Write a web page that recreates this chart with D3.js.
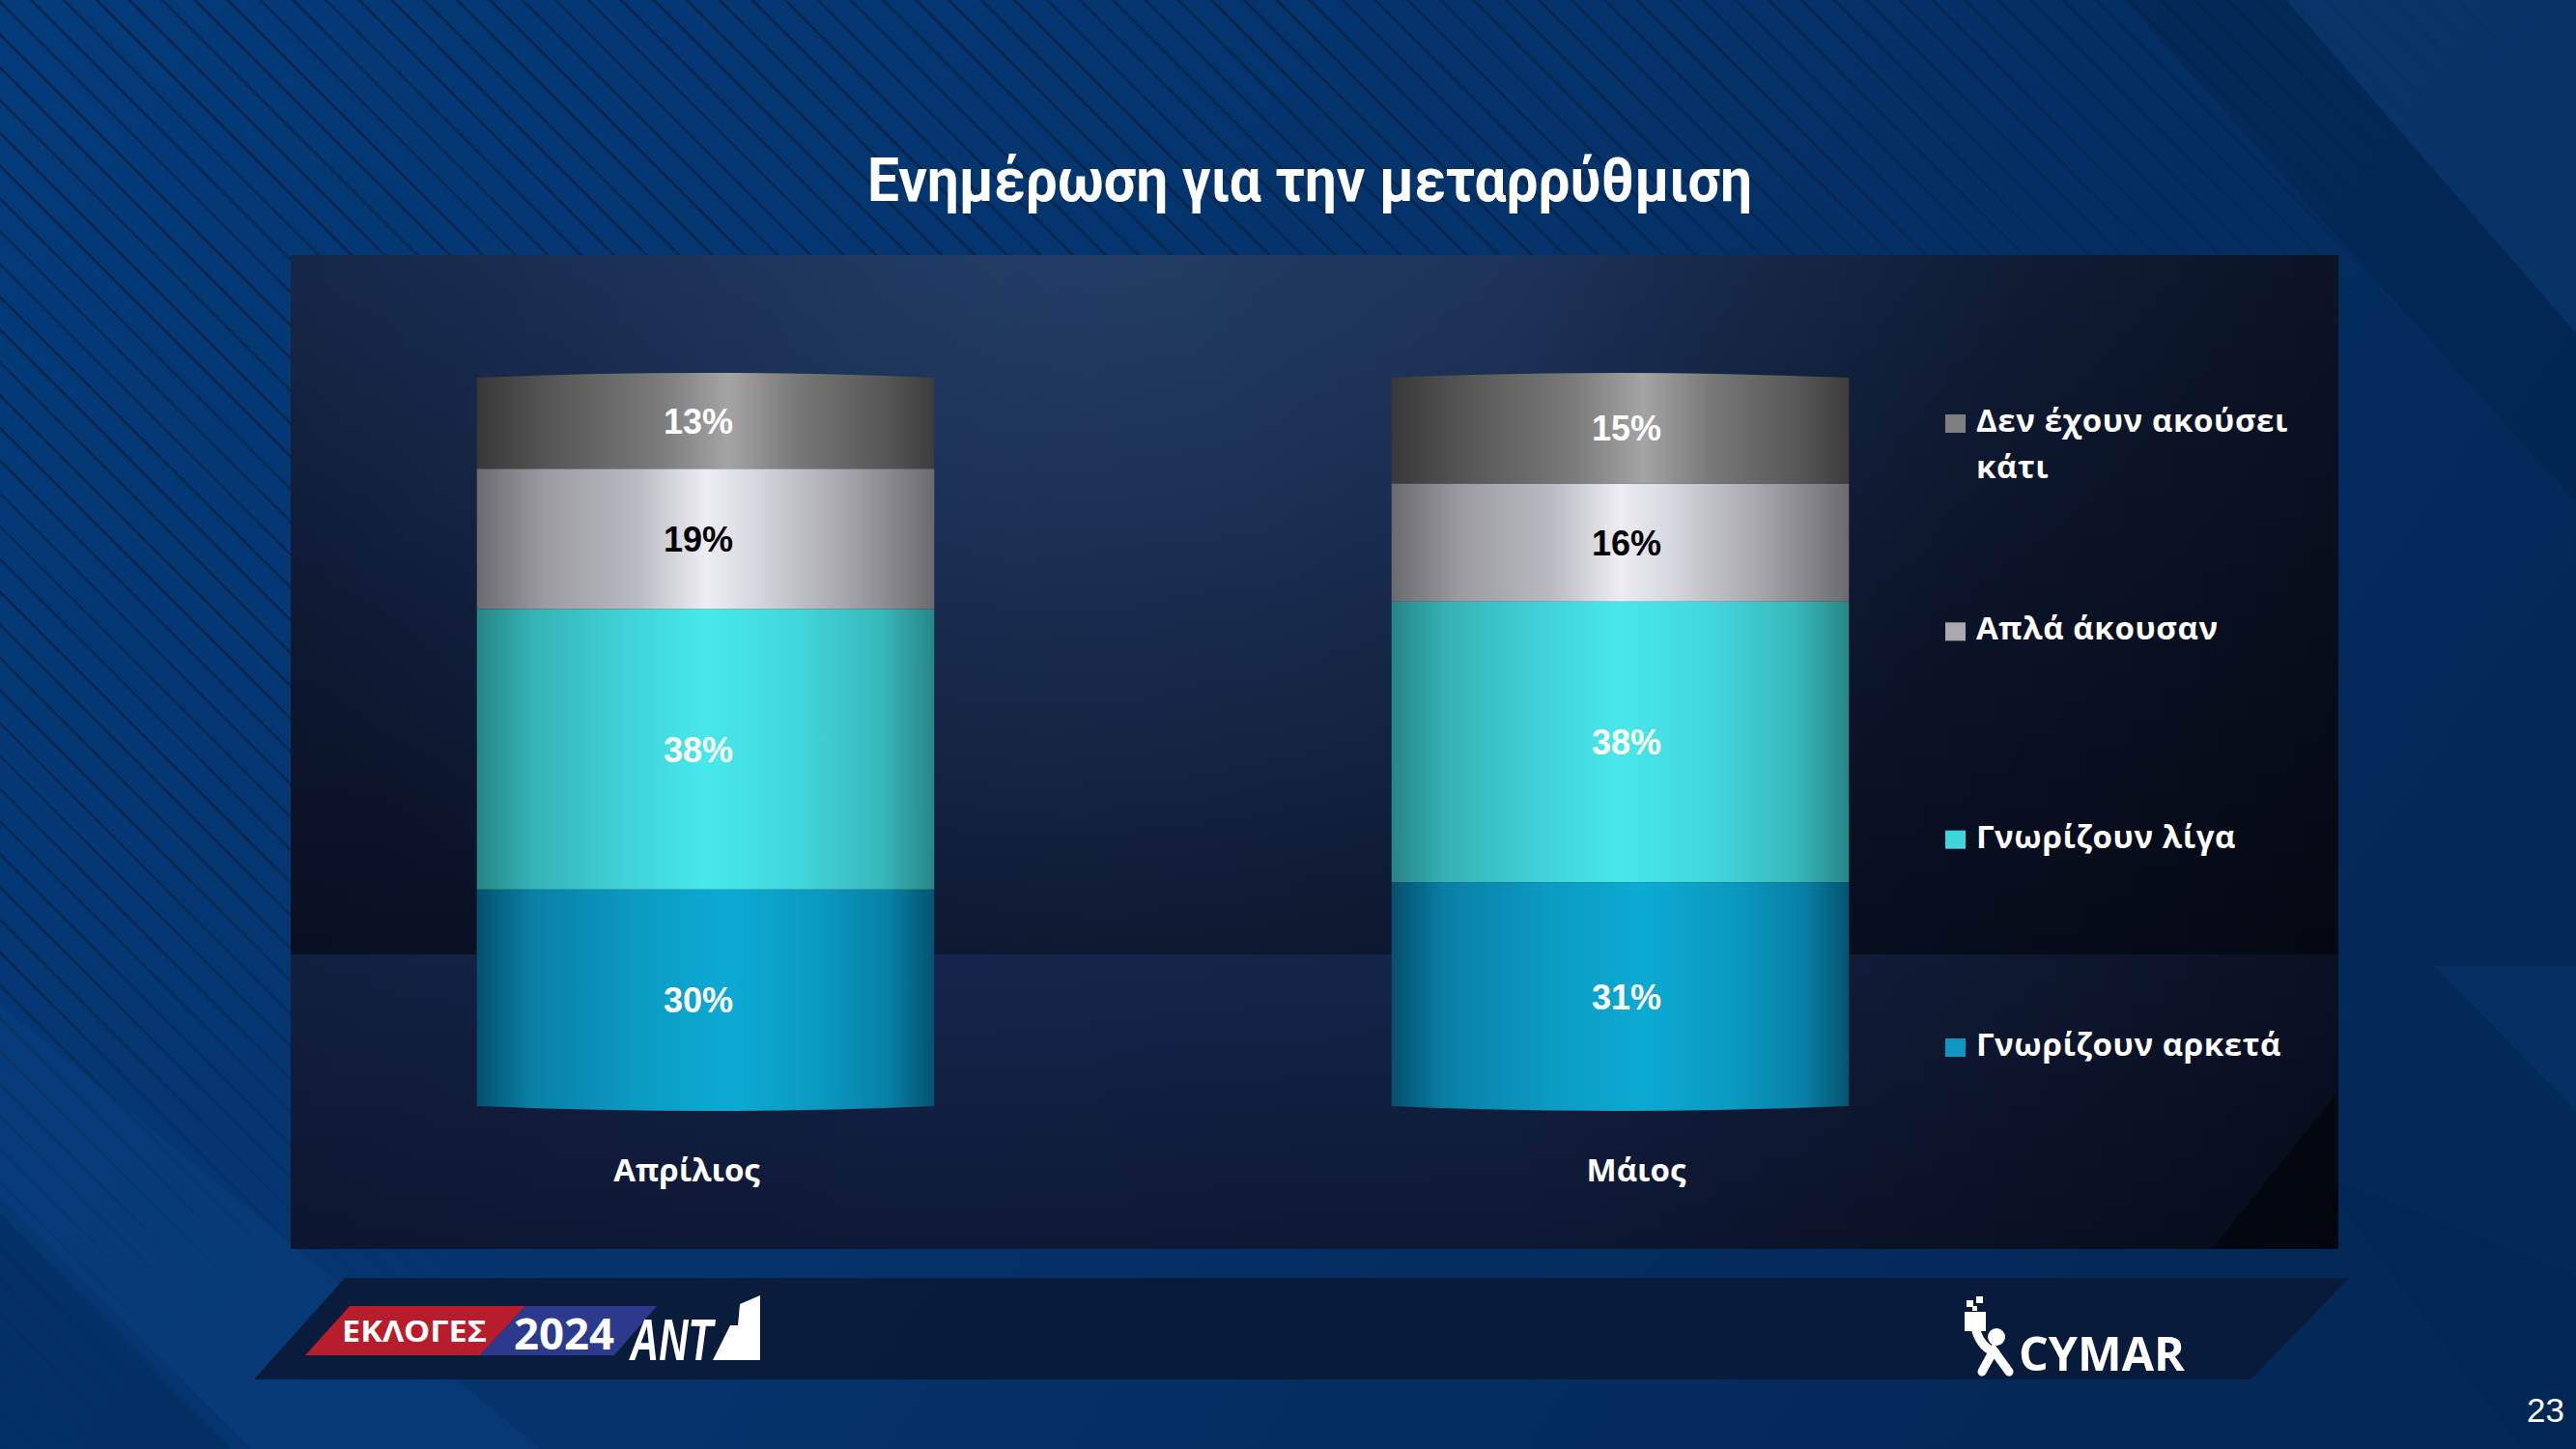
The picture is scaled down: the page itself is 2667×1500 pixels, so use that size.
<!DOCTYPE html>
<html>
<head>
<meta charset="utf-8">
<script src="https://cdn.jsdelivr.net/npm/d3@7"></script>
<style>
html, body { margin: 0; padding: 0; background: #04336b; overflow: hidden; }
</style>
</head>
<body>
<svg id="chart" width="2667" height="1500"></svg>
<script>
// chart values
var months = ["Απρίλιος", "Μάιος"];
var series = ["Γνωρίζουν αρκετά", "Γνωρίζουν λίγα", "Απλά άκουσαν", "Δεν έχουν ακούσει κάτι"];
var know_much = [30, 31];
var know_little = [38, 38];
var just_heard = [19, 16];
var heard_nothing = [13, 15];
var title_text = "Ενημέρωση για την μεταρρύθμιση";
var page_number = "23";

var W = 2667, H = 1500;
var svg = d3.select("#chart");
var defs = svg.append("defs");

// table for d3.stack
var rows = months.map((m, i) => ({
    month: m,
    [series[0]]: know_much[i],
    [series[1]]: know_little[i],
    [series[2]]: just_heard[i],
    [series[3]]: heard_nothing[i]
}));

// cylinder shading per series (left edge -> highlight -> right edge)
var shading = {
    [series[0]]: [[0, "#05506e"], [0.12, "#0980a6"], [0.35, "#0b9bc3"], [0.55, "#0caad3"], [0.75, "#0a99c1"], [0.9, "#0880a6"], [1, "#05526f"]],
    [series[1]]: [[0, "#278585"], [0.12, "#35b2b5"], [0.3, "#3ecfd3"], [0.5, "#47e8ec"], [0.7, "#41d7db"], [0.88, "#38b9bc"], [1, "#288686"]],
    [series[2]]: [[0, "#6a6a6f"], [0.15, "#9b9ba1"], [0.35, "#babac2"], [0.5, "#ededf3"], [0.6, "#d9d9e1"], [0.8, "#a7a7ad"], [1, "#6b6b6f"]],
    [series[3]]: [[0, "#383838"], [0.15, "#545454"], [0.4, "#7b7b7b"], [0.55, "#a4a4a4"], [0.7, "#787878"], [0.9, "#555555"], [1, "#3c3c3c"]]
};
var legend_color = {
    [series[0]]: "#0c98c2",
    [series[1]]: "#3fd6da",
    [series[2]]: "#a9a9ae",
    [series[3]]: "#7f7f7f"
};
var label_color = {
    [series[0]]: "#ffffff",
    [series[1]]: "#ffffff",
    [series[2]]: "#000000",
    [series[3]]: "#ffffff"
};

series.forEach((s, i) => {
    var g = defs.append("linearGradient").attr("id", "cyl" + i)
        .attr("x1", 0).attr("y1", 0).attr("x2", 1).attr("y2", 0);
    shading[s].forEach(st => g.append("stop").attr("offset", st[0]).attr("stop-color", st[1]));
});

/* ---------- slide background ---------- */
var bg = defs.append("linearGradient").attr("id", "bgGrad").attr("x1", 0).attr("y1", 0).attr("x2", 1).attr("y2", 0.4);
bg.append("stop").attr("offset", 0).attr("stop-color", "#043b7a");
bg.append("stop").attr("offset", 0.55).attr("stop-color", "#05336b");
bg.append("stop").attr("offset", 1).attr("stop-color", "#032959");
svg.append("rect").attr("width", W).attr("height", H).attr("fill", "url(#bgGrad)");

// diagonal pinstripes, fading out to the lower right
var pat = defs.append("pattern").attr("id", "stripes").attr("patternUnits", "userSpaceOnUse")
    .attr("width", 24).attr("height", 24).attr("patternTransform", "rotate(45)");
pat.append("rect").attr("x", 0).attr("y", 0).attr("width", 24).attr("height", 2.6).attr("fill", "#06244c");
var fade = defs.append("linearGradient").attr("id", "stripeFade").attr("x1", 0).attr("y1", 0).attr("x2", 0.8).attr("y2", 1);
fade.append("stop").attr("offset", 0).attr("stop-color", "#fff").attr("stop-opacity", 1);
fade.append("stop").attr("offset", 0.4).attr("stop-color", "#fff").attr("stop-opacity", 0.85);
fade.append("stop").attr("offset", 0.62).attr("stop-color", "#fff").attr("stop-opacity", 0);
var mask = defs.append("mask").attr("id", "stripeMask");
mask.append("rect").attr("width", W).attr("height", H).attr("fill", "url(#stripeFade)");
svg.append("rect").attr("width", W).attr("height", H).attr("fill", "url(#stripes)").attr("mask", "url(#stripeMask)");

// big facets of the background
var facets = [
    {pts: [[2367, 0], [2667, 0], [2667, 345]], fill: "#0d3a70", op: 0.55},
    {pts: [[2200, 0], [2367, 0], [2667, 345], [2667, 520]], fill: "#021f45", op: 0.35},
    {pts: [[0, 1040], [0, 1240], [260, 1500], [560, 1500]], fill: "#0b4487", op: 0.35},
    {pts: [[0, 1260], [0, 1500], [240, 1500]], fill: "#022a5a", op: 0.5},
    {pts: [[2520, 1000], [2667, 1000], [2667, 1150]], fill: "#0a3a72", op: 0.45},
    {pts: [[2400, 1215], [2667, 1320], [2667, 1500], [2610, 1500]], fill: "#022550", op: 0.35}
];
svg.append("g").selectAll("polygon").data(facets).join("polygon")
    .attr("points", d => d.pts.map(p => p.join(",")).join(" "))
    .attr("fill", d => d.fill).attr("opacity", d => d.op);

/* ---------- chart panel ---------- */
var panel = {x0: 301, y0: 264, x1: 2421, y1: 1293, split: 988};
var pUp = defs.append("linearGradient").attr("id", "panelUp").attr("x1", 0).attr("y1", 0).attr("x2", 0).attr("y2", 1);
pUp.append("stop").attr("offset", 0).attr("stop-color", "#182c52");
pUp.append("stop").attr("offset", 0.5).attr("stop-color", "#101d3b");
pUp.append("stop").attr("offset", 1).attr("stop-color", "#0a1228");
var pLow = defs.append("linearGradient").attr("id", "panelLow").attr("x1", 0).attr("y1", 0).attr("x2", 0).attr("y2", 1);
pLow.append("stop").attr("offset", 0).attr("stop-color", "#15254b");
pLow.append("stop").attr("offset", 1).attr("stop-color", "#0e1937");
var pGlow = defs.append("radialGradient").attr("id", "panelGlow").attr("gradientUnits", "userSpaceOnUse")
    .attr("cx", 1150).attr("cy", 250).attr("r", 950);
pGlow.append("stop").attr("offset", 0).attr("stop-color", "#2c4c78").attr("stop-opacity", 0.55);
pGlow.append("stop").attr("offset", 1).attr("stop-color", "#2c4c78").attr("stop-opacity", 0);
var pDark = defs.append("linearGradient").attr("id", "panelDark").attr("x1", 0).attr("y1", 0).attr("x2", 1).attr("y2", 0);
pDark.append("stop").attr("offset", 0).attr("stop-color", "#000").attr("stop-opacity", 0.15);
pDark.append("stop").attr("offset", 0.3).attr("stop-color", "#000").attr("stop-opacity", 0);
pDark.append("stop").attr("offset", 0.6).attr("stop-color", "#000").attr("stop-opacity", 0.05);
pDark.append("stop").attr("offset", 1).attr("stop-color", "#000").attr("stop-opacity", 0.55);

var gp = svg.append("g");
gp.append("rect").attr("x", panel.x0).attr("y", panel.y0).attr("width", panel.x1 - panel.x0)
    .attr("height", panel.split - panel.y0).attr("fill", "url(#panelUp)");
gp.append("rect").attr("x", panel.x0).attr("y", panel.split).attr("width", panel.x1 - panel.x0)
    .attr("height", panel.y1 - panel.split).attr("fill", "url(#panelLow)");
gp.append("rect").attr("x", panel.x0).attr("y", panel.y0).attr("width", panel.x1 - panel.x0)
    .attr("height", panel.split - panel.y0).attr("fill", "url(#panelGlow)");
gp.append("rect").attr("x", panel.x0).attr("y", panel.y0).attr("width", panel.x1 - panel.x0)
    .attr("height", panel.y1 - panel.y0).attr("fill", "url(#panelDark)");
gp.append("polygon")
    .attr("points", [[2290, panel.y1], [panel.x1, panel.y1], [panel.x1, 1130]].map(p => p.join(",")).join(" "))
    .attr("fill", "#000").attr("opacity", 0.45);

/* ---------- title (condensed look) ---------- */
svg.append("text")
    .attr("x", 1356).attr("y", 208)
    .attr("text-anchor", "middle")
    .attr("font-family", "Roboto, 'Liberation Sans', sans-serif")
    .attr("font-weight", 700)
    .attr("font-size", 63)
    .attr("textLength", 916)
    .attr("lengthAdjust", "spacingAndGlyphs")
    .attr("fill", "#ffffff")
    .text(title_text);

/* ---------- stacked cylinders ---------- */
var x = d3.scaleBand().domain(months).range([257, 2151]).paddingInner(0.5).paddingOuter(0.25);
var y = d3.scaleLinear().domain([0, 100]).range([1150, 386]);
var xLabel = d3.scalePoint().domain(months).range([711, 1694]);
var xValue = d3.scalePoint().domain(months).range([723, 1684]);

var stack = d3.stack().keys(series)(rows);
var bend = 5;

function segPath(d, layerIdx) {
    var x0 = x(d.data.month), w = x.bandwidth();
    var top = y(d[1]), bot = y(d[0]);
    var p = d3.path();
    if (layerIdx == series.length - 1) {
        p.moveTo(x0, top + bend);
        p.quadraticCurveTo(x0 + w / 2, top - bend, x0 + w, top + bend);
    } else {
        p.moveTo(x0, top);
        p.lineTo(x0 + w, top);
    }
    if (layerIdx == 0) {
        p.lineTo(x0 + w, bot - bend);
        p.quadraticCurveTo(x0 + w / 2, bot + bend, x0, bot - bend);
    } else {
        p.lineTo(x0 + w, bot);
        p.lineTo(x0, bot);
    }
    p.closePath();
    return p.toString();
}

var layers = svg.append("g").selectAll("g.layer").data(stack).join("g").attr("class", "layer");
layers.selectAll("path").data((L, i) => L.map(d => ({d: d, i: i}))).join("path")
    .attr("d", o => segPath(o.d, o.i))
    .attr("fill", o => `url(#cyl${o.i})`);

layers.selectAll("text").data((L, i) => L.map(d => ({d: d, key: series[i]}))).join("text")
    .attr("x", o => xValue(o.d.data.month))
    .attr("y", o => (y(o.d[0]) + y(o.d[1])) / 2)
    .attr("dy", "0.36em")
    .attr("text-anchor", "middle")
    .attr("font-family", "'Liberation Sans', Arial, sans-serif")
    .attr("font-weight", 700)
    .attr("font-size", 36)
    .attr("fill", o => label_color[o.key])
    .text(o => (o.d[1] - o.d[0]) + "%");

// month labels
svg.append("g").selectAll("text").data(months).join("text")
    .attr("x", m => xLabel(m)).attr("y", 1223)
    .attr("text-anchor", "middle")
    .attr("font-family", "'Open Sans', 'Noto Sans', sans-serif")
    .attr("font-weight", 700)
    .attr("font-size", 33)
    .attr("fill", "#ffffff")
    .text(m => m);

/* ---------- legend (top item first) ---------- */
var legend_order = series.slice().reverse();
var legend_lines = {
    [series[3]]: ["Δεν έχουν ακούσει", "κάτι"]
};
var ly = d3.scalePoint().domain(legend_order).range([447, 1093]);
var lg = svg.append("g").selectAll("g").data(legend_order).join("g")
    .attr("transform", s => `translate(2014,${ly(s)})`);
lg.append("rect").attr("x", 0).attr("y", -18).attr("width", 21).attr("height", 19)
    .attr("fill", s => legend_color[s]);
lg.append("text")
    .attr("x", 32).attr("y", 0)
    .attr("font-family", "'Open Sans', 'Noto Sans', sans-serif")
    .attr("font-weight", 700)
    .attr("font-size", 33)
    .attr("letter-spacing", 0.6)
    .attr("fill", "#ffffff")
    .selectAll("tspan").data(s => legend_lines[s] || [s]).join("tspan")
    .attr("x", 32).attr("dy", (t, i) => i == 0 ? 0 : 48)
    .text(t => t);

/* ---------- footer band with logos ---------- */
var foot = svg.append("g");
foot.append("polygon").attr("points", "357,1323 2432,1323 2330,1428 263,1428")
    .attr("fill", "#0a1a36").attr("opacity", 0.9);
foot.append("polygon").attr("points", "362,1352 544,1352 497,1403 316,1403").attr("fill", "#b81d2b");
foot.append("polygon").attr("points", "544,1352 680,1352 636,1403 497,1403").attr("fill", "#2c3a8e");
foot.append("text").attr("x", 354).attr("y", 1389)
    .attr("font-family", "'Open Sans', 'Liberation Sans', sans-serif").attr("font-weight", 700)
    .attr("font-size", 31).attr("textLength", 150).attr("lengthAdjust", "spacingAndGlyphs")
    .attr("fill", "#ffffff").text("ΕΚΛΟΓΕΣ");
foot.append("text").attr("x", 532).attr("y", 1397)
    .attr("font-family", "'Open Sans', 'Liberation Sans', sans-serif").attr("font-weight", 700)
    .attr("font-size", 44).attr("textLength", 104).attr("lengthAdjust", "spacingAndGlyphs")
    .attr("fill", "#ffffff").text("2024");
foot.append("text").attr("x", 652).attr("y", 1408)
    .attr("font-family", "'Liberation Sans', Arial, sans-serif").attr("font-weight", 700)
    .attr("font-style", "italic")
    .attr("font-size", 62).attr("textLength", 86).attr("lengthAdjust", "spacingAndGlyphs")
    .attr("fill", "#ffffff").text("ANT");
foot.append("polygon").attr("points", "766,1350 787,1341 787,1408 738,1408 756,1372 764,1372")
    .attr("fill", "#ffffff");

// CYMAR mark
var cy = foot.append("g").attr("fill", "#ffffff");
cy.append("rect").attr("x", 2034).attr("y", 1358).attr("width", 22).attr("height", 20);
cy.append("rect").attr("x", 2036).attr("y", 1346).attr("width", 7).attr("height", 7);
cy.append("rect").attr("x", 2046).attr("y", 1342).attr("width", 7).attr("height", 7);
cy.append("rect").attr("x", 2042).attr("y", 1352).attr("width", 5).attr("height", 5);
cy.append("circle").attr("cx", 2067).attr("cy", 1384).attr("r", 9);
foot.append("path").attr("d", "M2046,1378 Q2052,1396 2066,1400 M2052,1420 L2064,1398 L2080,1420")
    .attr("fill", "none").attr("stroke", "#ffffff").attr("stroke-width", 9).attr("stroke-linecap", "round");
foot.append("text").attr("x", 2090).attr("y", 1419)
    .attr("font-family", "'Open Sans', 'Liberation Sans', sans-serif").attr("font-weight", 700)
    .attr("font-size", 48).attr("textLength", 172).attr("lengthAdjust", "spacingAndGlyphs")
    .attr("fill", "#ffffff").text("CYMAR");

// slide number
svg.append("text").attr("x", 2655).attr("y", 1472).attr("text-anchor", "end")
    .attr("font-family", "'Liberation Sans', Arial, sans-serif")
    .attr("font-size", 35).attr("fill", "#ffffff").text(page_number);
</script>
</body>
</html>
